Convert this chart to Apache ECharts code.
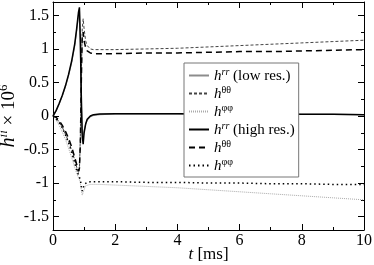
<!DOCTYPE html>
<html><head><meta charset="utf-8">
<script src="https://cdn.jsdelivr.net/npm/echarts@6/dist/echarts.min.js"></script>
<style>html,body{margin:0;padding:0;background:#fff}#c{width:374px;height:265px}</style>
</head><body><div id="c"></div>
<script>
const t = [0,0.1,0.2,0.3,0.4,0.5,0.6,0.7,0.76,0.82,0.85,0.88,0.91,0.94,0.97,1.0,1.05,1.1,1.2,1.3,1.5,2,3,4,5,6,7,8,9,10];
const hrrLow  = [0,0.08,0.18,0.30,0.44,0.60,0.80,1.05,1.27,1.50,1.57,1.05,0.20,-0.25,-0.32,-0.22,-0.12,-0.06,-0.01,0.01,0.02,0.03,0.03,0.03,0.03,0.03,0.03,0.025,0.025,0.02];
const httLow  = [0,-0.03,-0.09,-0.17,-0.27,-0.38,-0.51,-0.66,-0.76,-0.85,-0.80,-0.30,0.60,1.30,1.45,1.30,1.12,1.05,1.00,0.99,0.99,0.99,1.00,1.01,1.03,1.05,1.07,1.09,1.11,1.13];
const hppLow  = [0,-0.06,-0.14,-0.24,-0.35,-0.48,-0.62,-0.77,-0.85,-0.92,-0.95,-1.00,-1.10,-1.18,-1.20,-1.10,-1.04,-1.03,-1.02,-1.02,-1.02,-1.03,-1.05,-1.07,-1.10,-1.13,-1.16,-1.19,-1.22,-1.25];
const hrrHigh = [0,0.08,0.19,0.31,0.45,0.62,0.82,1.08,1.30,1.55,1.62,1.10,0.30,-0.30,-0.42,-0.25,-0.12,-0.05,0.00,0.02,0.03,0.035,0.035,0.035,0.03,0.03,0.03,0.025,0.025,0.02];
const httHigh = [0,-0.02,-0.07,-0.14,-0.23,-0.33,-0.46,-0.62,-0.72,-0.82,-0.78,-0.40,0.50,1.20,1.25,1.12,1.02,0.97,0.94,0.93,0.93,0.93,0.94,0.94,0.95,0.96,0.96,0.97,0.98,0.99];
const hppHigh = [0,-0.04,-0.10,-0.18,-0.28,-0.40,-0.54,-0.70,-0.80,-0.88,-0.90,-0.95,-1.05,-1.12,-1.08,-1.02,-1.00,-0.99,-0.98,-0.98,-0.98,-0.98,-0.99,-0.99,-1.00,-1.00,-1.01,-1.01,-1.02,-1.02];
const xTicks = [0,2,4,6,8,10];
const yMajor = [-1.5,-1,-0.5,0,0.5,1,1.5];
const yMinor = [-1.5,-1.25,-1,-0.75,-0.5,-0.25,0,0.25,0.5,0.75,1,1.25,1.5];

const FONT = '"Liberation Serif", "Times New Roman", serif';
const pair = a => a.map((v,i)=>[t[i],v]);
const rich = {
  h:{fontFamily:FONT,fontStyle:'italic',fontSize:15,color:'#000',verticalAlign:'bottom',lineHeight:17},
  si:{fontFamily:FONT,fontStyle:'italic',fontSize:10,color:'#000',verticalAlign:'top',lineHeight:17},
  s:{fontFamily:FONT,fontSize:10,color:'#000',verticalAlign:'top',lineHeight:17},
  n:{fontFamily:FONT,fontSize:15,color:'#000',verticalAlign:'bottom',lineHeight:17}
};
const labels = {
  'rrLow':'{h|h}{si|rr}{n| (low res.)}',
  'ttLow':'{h|h}{s|θθ}',
  'ppLow':'{h|h}{s|φφ}',
  'rrHigh':'{h|h}{si|rr}{n| (high res.)}',
  'ttHigh':'{h|h}{s|θθ}',
  'ppHigh':'{h|h}{s|φφ}'
};
const mk = (name,data,color,width,type,z) => ({
  name, type:'line', data:pair(data), showSymbol:false, symbol:'none', z,
  lineStyle:{color,width,type}, itemStyle:{color}
});
const tickRich = {v:{fontFamily:FONT,fontSize:16,color:'#000'}};
const axisCommon = {min:0,max:10,interval:2,splitLine:{show:false}};
const line = {onZero:false,lineStyle:{color:'#000',width:1}};
const chart = echarts.init(document.getElementById('c'));
chart.setOption({
  animation:false,
  backgroundColor:'#fff',
  textStyle:{fontFamily:FONT},
  grid:{left:53,right:10,top:2,bottom:35,containLabel:false,outerBoundsMode:'none'},
  legend:{
    orient:'vertical', left:184, top:63, itemWidth:20, itemHeight:10, itemGap:1,
    padding:[4,4,3,4], borderColor:'#777', borderWidth:1, backgroundColor:'#fff',
    itemStyle:{opacity:0, borderWidth:0},
    formatter:n=>labels[n], textStyle:{rich, fontFamily:FONT}
  },
  xAxis:[
    Object.assign({type:'value',position:'bottom',axisLine:line,
      name:'{h|t}{n| [ms]}', nameLocation:'middle', nameGap:16, nameMoveOverlap:false,
      nameTextStyle:{rich:{h:{fontFamily:FONT,fontStyle:'italic',fontSize:17,color:'#000'},n:{fontFamily:FONT,fontSize:17,color:'#000'}}},
      axisTick:{inside:true,length:6,lineStyle:{color:'#000'}},
      minorTick:{show:true,splitNumber:2,length:3,lineStyle:{color:'#000'}},
      axisLabel:{formatter:v=>'{v|'+v+'}',rich:tickRich,fontFamily:FONT,fontSize:16,color:'#000',margin:3}},axisCommon),
    Object.assign({type:'value',position:'top',axisLine:line,
      axisTick:{inside:true,length:6,lineStyle:{color:'#000'}},
      minorTick:{show:true,splitNumber:2,length:3,lineStyle:{color:'#000'}},
      axisLabel:{show:false}},axisCommon)
  ],
  yAxis:[
    {type:'value',position:'left',min:-1.7,max:1.7,splitLine:{show:false},
      axisLine:line,
      axisTick:{inside:true,length:6,customValues:yMajor,lineStyle:{color:'#000'}},
      axisLabel:{customValues:yMajor,formatter:v=>'{v|'+v+'}',rich:tickRich,fontFamily:FONT,fontSize:16,color:'#000',margin:4},
      name:'{h|h}{si|ii}{n| × 10}{s|6}', nameLocation:'middle', nameGap:34, nameRotate:90, nameMoveOverlap:false,
      nameTextStyle:{rich:{
        h:{fontFamily:FONT,fontStyle:'italic',fontSize:20,color:'#000',verticalAlign:'bottom',lineHeight:22},
        si:{fontFamily:FONT,fontStyle:'italic',fontSize:13,color:'#000',verticalAlign:'top',lineHeight:22},
        s:{fontFamily:FONT,fontSize:13,color:'#000',verticalAlign:'top',lineHeight:22},
        n:{fontFamily:FONT,fontSize:19,color:'#000',verticalAlign:'bottom',lineHeight:22}}}},
    {type:'value',position:'left',min:-1.7,max:1.7,splitLine:{show:false},axisLine:{show:false,onZero:false},
      axisTick:{inside:true,length:3,customValues:yMinor,lineStyle:{color:'#000'}},axisLabel:{show:false}},
    {type:'value',position:'right',min:-1.7,max:1.7,splitLine:{show:false},
      axisLine:line,
      axisTick:{inside:true,length:6,customValues:yMajor,lineStyle:{color:'#000'}},axisLabel:{show:false}},
    {type:'value',position:'right',min:-1.7,max:1.7,splitLine:{show:false},axisLine:{show:false,onZero:false},
      axisTick:{inside:true,length:3,customValues:yMinor,lineStyle:{color:'#000'}},axisLabel:{show:false}}
  ],
  series:[
    mk('rrLow',hrrLow,'#8c8c8c',1.2,'solid',2),
    mk('ttLow',httLow,'#444',1,[3,2],2),
    mk('ppLow',hppLow,'#aaa',1,[1,1],2),
    mk('rrHigh',hrrHigh,'#000',1.5,'solid',3),
    mk('ttHigh',httHigh,'#000',1.5,[6,4],3),
    mk('ppHigh',hppHigh,'#000',1.5,[1.5,3],3)
  ]
});
</script></body></html>
